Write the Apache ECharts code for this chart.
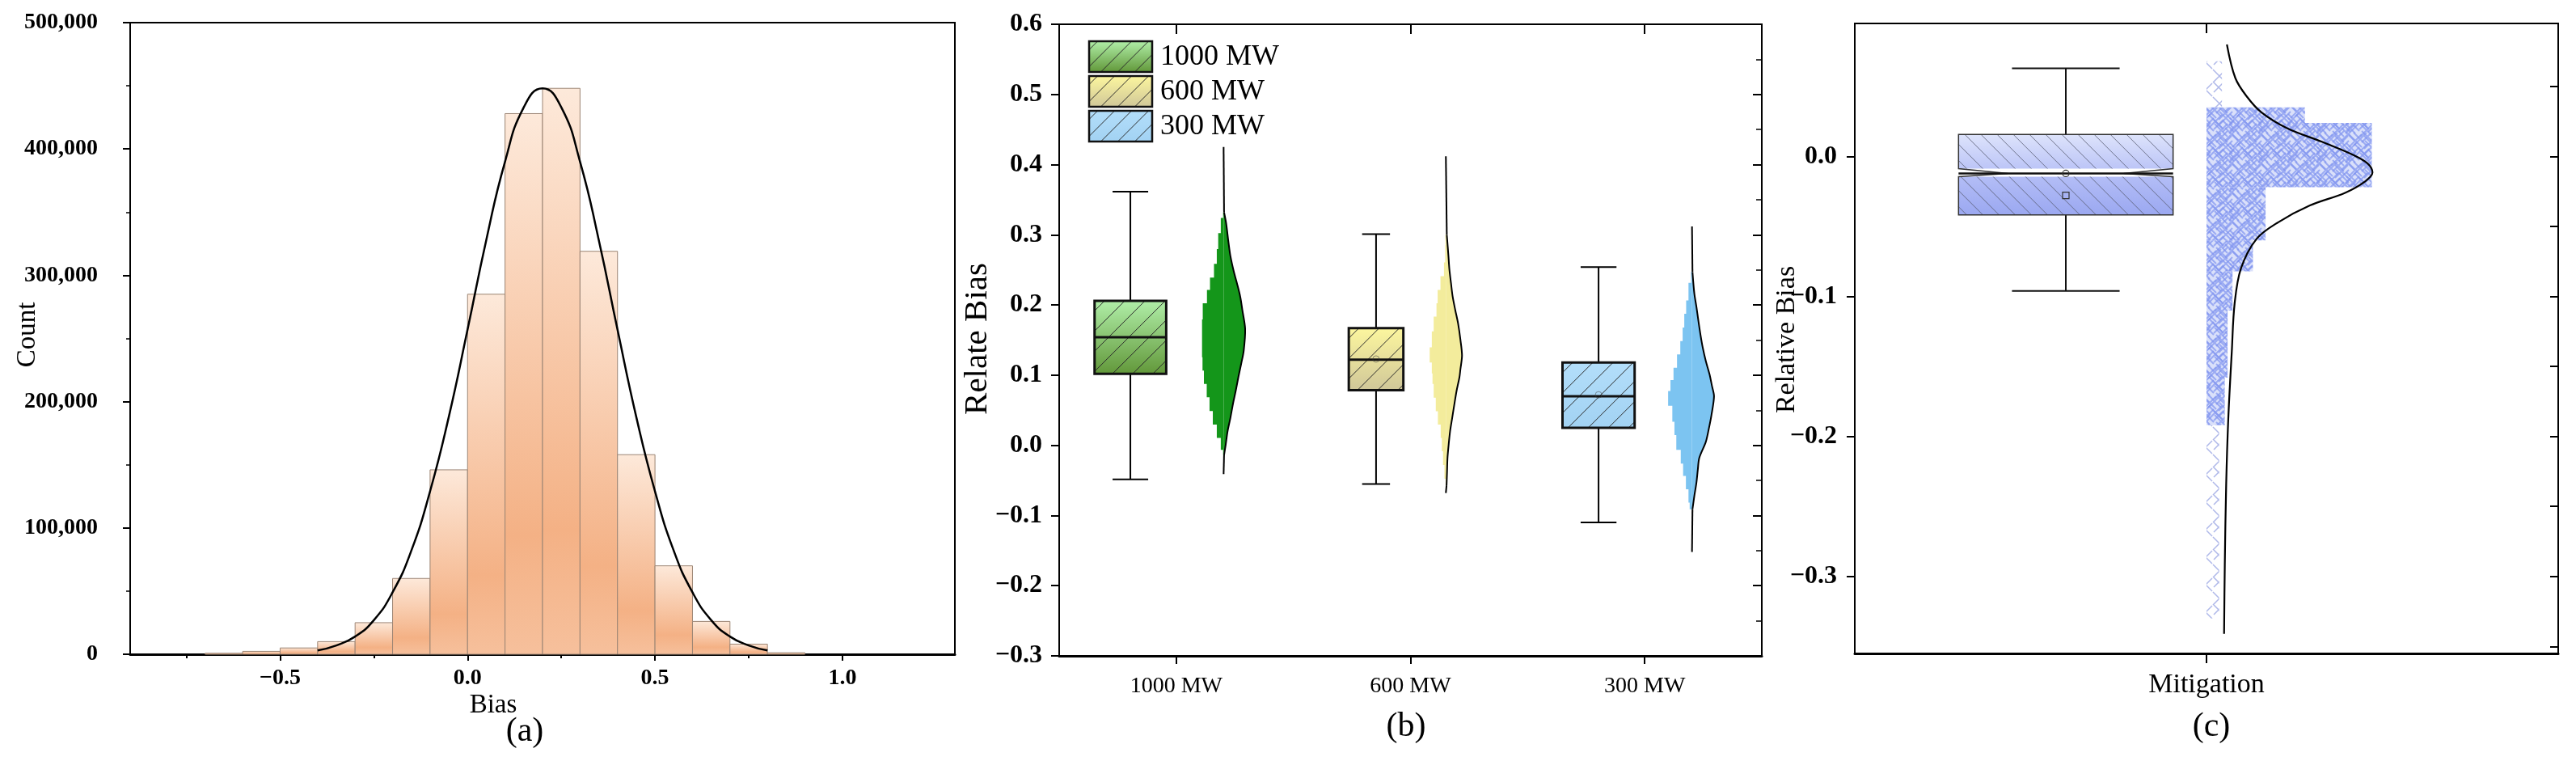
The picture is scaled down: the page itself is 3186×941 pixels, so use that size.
<!DOCTYPE html>
<html>
<head>
<meta charset="utf-8">
<title>Bias distributions</title>
<script src="https://cdn.jsdelivr.net/npm/echarts@6/dist/echarts.min.js"></script>
<style>
html, body { margin: 0; padding: 0; background: #fff; }
#chart { width: 3186px; height: 941px; }
</style>
</head>
<body>
<div id="chart"></div>
<script>
// ---------- (a) histogram of Bias ----------
var binStarts = [-0.7, -0.6, -0.5, -0.4, -0.3, -0.2, -0.1, 0.0, 0.1, 0.2, 0.3, 0.4, 0.5, 0.6, 0.7, 0.8];
var binWidth = 0.1;
var binCounts = [800, 2300, 5000, 10000, 25000, 60000, 146000, 285000, 428000, 448000, 319000, 158000, 70000, 26000, 8000, 1200];
var fitX = [-0.4, -0.35, -0.3, -0.25, -0.2, -0.15, -0.1, -0.05, 0.0, 0.05, 0.1, 0.15, 0.2, 0.25, 0.3, 0.35, 0.4, 0.45, 0.5, 0.55, 0.6, 0.65, 0.7, 0.75, 0.8];
var fitCount = [3000, 7000, 14000, 27000, 49000, 82000, 129000, 188000, 257000, 328000, 390000, 433000, 448000, 433000, 390000, 328000, 257000, 188000, 129000, 82000, 49000, 27000, 14000, 7000, 3000];
var histXTicks = [-0.5, 0.0, 0.5, 1.0];
var histXMinorTicks = [-0.75, -0.25, 0.25, 0.75];

// ---------- (b) box + half violin per unit ----------
var unitNames = ['1000 MW', '600 MW', '300 MW'];
// [min, Q1, median, Q3, max]
var unitBoxStats = [
  [-0.0486, 0.102, 0.154, 0.206, 0.3615],
  [-0.055, 0.0785, 0.122, 0.167, 0.301],
  [-0.110, 0.025, 0.070, 0.118, 0.254]
];
var unitMeans = [0.155, 0.123, 0.072];

var violin1000Y     = [0.332, 0.316, 0.289, 0.270, 0.247, 0.231, 0.212, 0.193, 0.166, 0.135, 0.116, 0.097, 0.078, 0.059, 0.039, 0.020, 0.001, -0.014];
var violin1000Left  = [0.002, 0.012, 0.023, 0.029, 0.041, 0.058, 0.071, 0.089, 0.092, 0.092, 0.090, 0.084, 0.072, 0.060, 0.046, 0.029, 0.012, 0.002];
var violin1000Right = [0.002, 0.011, 0.021, 0.029, 0.044, 0.057, 0.071, 0.080, 0.092, 0.086, 0.075, 0.063, 0.052, 0.040, 0.029, 0.017, 0.009, 0.002];
var violin1000Stem  = [0.425, -0.041];

var violin600Y     = [0.300, 0.270, 0.251, 0.231, 0.212, 0.193, 0.174, 0.151, 0.128, 0.108, 0.097, 0.078, 0.058, 0.039, 0.020, 0.001, -0.018, -0.038, -0.057];
var violin600Left  = [0.002, 0.003, 0.008, 0.023, 0.035, 0.040, 0.052, 0.060, 0.069, 0.060, 0.057, 0.052, 0.043, 0.034, 0.022, 0.017, 0.012, 0.006, 0.001];
var violin600Right = [0.004, 0.011, 0.015, 0.022, 0.029, 0.040, 0.052, 0.062, 0.069, 0.062, 0.058, 0.046, 0.036, 0.027, 0.018, 0.012, 0.007, 0.005, 0.003];
var violin600Stem  = [0.412, -0.068];

var violin300Y     = [0.247, 0.216, 0.197, 0.178, 0.158, 0.139, 0.120, 0.101, 0.085, 0.070, 0.043, 0.024, 0.005, -0.018, -0.034, -0.053, -0.072, -0.091];
var violin300Left  = [0.004, 0.015, 0.025, 0.033, 0.040, 0.050, 0.064, 0.079, 0.092, 0.102, 0.084, 0.075, 0.067, 0.048, 0.038, 0.026, 0.015, 0.010];
var violin300Right = [0.002, 0.010, 0.019, 0.027, 0.036, 0.046, 0.059, 0.075, 0.085, 0.094, 0.083, 0.072, 0.059, 0.031, 0.025, 0.019, 0.010, 0.002];
var violin300Stem  = [0.312, -0.152];

// ---------- (c) mitigation ----------
var mitigationBox = [-0.096, -0.0417, -0.0121, 0.0157, 0.063];
var mitigationMean = -0.0278;
var mitigationNotch = [-0.0144, -0.0087];
var cloudTop    = [0.068, 0.035, 0.024, -0.022, -0.060, -0.082, -0.110, -0.158, -0.192];
var cloudBottom = [0.035, 0.024, -0.022, -0.060, -0.082, -0.110, -0.158, -0.192, -0.330];
var cloudRight  = [0.522, 0.640, 0.735, 0.584, 0.566, 0.537, 0.530, 0.526, 0.518];
var cloudDense  = [0, 1, 1, 1, 1, 1, 1, 1, 0];
var densityX = [0.529, 0.541, 0.557, 0.578, 0.615, 0.664, 0.709, 0.729, 0.736, 0.725, 0.697, 0.647, 0.602, 0.571, 0.549, 0.540, 0.536, 0.531, 0.528, 0.526, 0.525];
var densityY = [0.080, 0.056, 0.043, 0.0315, 0.020, 0.0105, 0.001, -0.005, -0.0115, -0.018, -0.026, -0.035, -0.047, -0.059, -0.080, -0.105, -0.139, -0.187, -0.234, -0.292, -0.341];
var mitigationYTicks = [-0.3, -0.2, -0.1, 0.0];
var mitigationYMinorTicks = [-0.35, -0.3, -0.25, -0.2, -0.15, -0.1, -0.05, 0.0, 0.05];

// ---------- layout / style ----------
var boxCenters = [0.304, 1.353, 2.303];
var boxHalf = [0.153, 0.1165, 0.154];
var capHalf = [0.076, 0.0595, 0.0765];
var spines = [0.702, 1.651, 2.702];
var boxColors = [['#b0eea8', '#62983a'], ['#fcf69e', '#d0c799'], ['#b3defa', '#a2d2f3']];
var violinColors = ['#14961a', '#f3ec9c', '#7cc4f1'];
var SERIF = '"Liberation Serif", "Times New Roman", serif';

var violins = [
  { y: violin1000Y, l: violin1000Left, r: violin1000Right, stem: violin1000Stem },
  { y: violin600Y, l: violin600Left, r: violin600Right, stem: violin600Stem },
  { y: violin300Y, l: violin300Left, r: violin300Right, stem: violin300Stem }
];

function minusFmt(v) {
  var s = Math.abs(v).toFixed(1);
  return (v < -1e-9 ? '\u2212' : '') + s;
}

function grad(c0, c1) {
  return new echarts.graphic.LinearGradient(0, 0, 0, 1, [
    { offset: 0, color: c0 }, { offset: 1, color: c1 }
  ]);
}

// diagonal hatch lines clipped to a pixel rectangle; dir 1 = '/', -1 = '\'
function hatchLines(x0, y0, x1, y1, step, dir, style) {
  var out = [], c, xa, xb;
  if (dir > 0) {
    for (c = x0 + y0 + step / 2; c < x1 + y1; c += step) {
      xa = Math.max(x0, c - y1); xb = Math.min(x1, c - y0);
      if (xb > xa) out.push({ type: 'line', shape: { x1: xa, y1: c - xa, x2: xb, y2: c - xb }, style: style });
    }
  } else {
    for (c = x0 - y1 + step / 2; c < x1 - y0; c += step) {
      xa = Math.max(x0, c + y0); xb = Math.min(x1, c + y1);
      if (xb > xa) out.push({ type: 'line', shape: { x1: xa, y1: xa - c, x2: xb, y2: xb - c }, style: style });
    }
  }
  return out;
}

// tiles of x marks for the scatter cloud
function crossTile(size, marks, color, lw, bg) {
  var cv = document.createElement('canvas');
  cv.width = size; cv.height = size;
  var ctx = cv.getContext('2d');
  if (bg) { ctx.fillStyle = bg; ctx.fillRect(0, 0, size, size); }
  ctx.strokeStyle = color; ctx.lineWidth = lw;
  marks.forEach(function (m) {
    [-size, 0, size].forEach(function (dx) {
      [-size, 0, size].forEach(function (dy) {
        var x = m[0] + dx, y = m[1] + dy, r = m[2];
        ctx.beginPath();
        ctx.moveTo(x - r, y - r); ctx.lineTo(x + r, y + r);
        ctx.moveTo(x + r, y - r); ctx.lineTo(x - r, y + r);
        ctx.stroke();
      });
    });
  });
  return cv;
}
var denseTile = crossTile(36, [[4, 6, 8], [17, 2, 8], [30, 10, 8], [11, 17, 8], [24, 22, 8], [3, 28, 8], [16, 32, 8], [33, 30, 8], [20, 12, 7], [8, 10, 6], [28, 3, 6], [12, 25, 7], [27, 15, 6]],
  'rgba(128,148,240,0.7)', 2, 'rgba(150,166,242,0.35)');
var sparseTile = crossTile(34, [[8, 9, 8], [25, 26, 8], [24, 6, 6]], 'rgba(122,136,218,0.6)', 1.5);

var axisLineStyle = { color: '#000', width: 2 };
var tickStyle = { color: '#000', width: 2 };

// ---------- render functions ----------
function renderHistBar(params, api) {
  var a = api.coord([api.value(0), 0]);
  var b = api.coord([api.value(1), api.value(2)]);
  return {
    type: 'rect',
    shape: { x: a[0], y: b[1], width: b[0] - a[0], height: a[1] - b[1] },
    style: {
      fill: new echarts.graphic.LinearGradient(0, 0, 0, 1, [
        { offset: 0, color: '#fde9da' }, { offset: 0.78, color: '#f4b185' }, { offset: 1, color: '#f6c09c' }
      ]),
      stroke: '#9c8574', lineWidth: 1
    }
  };
}

function renderUnitBox(params, api) {
  var g = api.value(0);
  var s = unitBoxStats[g];
  var cx = boxCenters[g], hw = boxHalf[g], ch = capHalf[g];
  var tl = api.coord([cx - hw, s[3]]), br = api.coord([cx + hw, s[1]]);
  var pMax = api.coord([cx, s[4]]), pMin = api.coord([cx, s[0]]), pMed = api.coord([cx, s[2]]);
  var capL = api.coord([cx - ch, 0])[0], capR = api.coord([cx + ch, 0])[0];
  var pMean = api.coord([cx, unitMeans[g]]);
  var ln = { stroke: '#000', lineWidth: 2 };
  var kids = [
    { type: 'line', shape: { x1: pMax[0], y1: pMax[1], x2: pMax[0], y2: tl[1] }, style: ln },
    { type: 'line', shape: { x1: pMin[0], y1: br[1], x2: pMin[0], y2: pMin[1] }, style: ln },
    { type: 'line', shape: { x1: capL, y1: pMax[1], x2: capR, y2: pMax[1] }, style: ln },
    { type: 'line', shape: { x1: capL, y1: pMin[1], x2: capR, y2: pMin[1] }, style: ln },
    { type: 'rect', shape: { x: tl[0], y: tl[1], width: br[0] - tl[0], height: br[1] - tl[1] },
      style: { fill: grad(boxColors[g][0], boxColors[g][1]) } }
  ];
  kids = kids.concat(hatchLines(tl[0], tl[1], br[0], br[1], 25, 1, { stroke: '#2a2a2a', lineWidth: 1 }));
  kids.push({ type: 'rect', shape: { x: tl[0], y: tl[1], width: br[0] - tl[0], height: br[1] - tl[1] },
    style: { fill: null, stroke: '#111', lineWidth: 3 } });
  kids.push({ type: 'line', shape: { x1: tl[0], y1: pMed[1], x2: br[0], y2: pMed[1] }, style: { stroke: '#111', lineWidth: 3 } });
  if (g > 0) {
    kids.push({ type: 'circle', shape: { cx: pMean[0], cy: pMean[1], r: 4 }, style: { fill: null, stroke: 'rgba(60,60,60,0.5)', lineWidth: 1 } });
  }
  return { type: 'group', children: kids };
}

function renderViolin(params, api) {
  var g = api.value(0);
  var v = violins[g], sp = spines[g], n = v.y.length;
  var left = [api.coord([sp, v.y[0]])], right = [], curve = [];
  for (var i = 0; i < n; i++) {
    var yT = i === 0 ? v.y[0] : (v.y[i - 1] + v.y[i]) / 2;
    var yB = i === n - 1 ? v.y[n - 1] : (v.y[i] + v.y[i + 1]) / 2;
    left.push(api.coord([sp - v.l[i], yT]), api.coord([sp - v.l[i], yB]));
    curve.push(api.coord([sp + v.r[i], v.y[i]]));
  }
  left.push(api.coord([sp, v.y[n - 1]]));
  right.push(api.coord([sp, v.y[0]]));
  right = right.concat(curve);
  for (var k = 0; k <= 8; k++) {
    right.push(api.coord([sp, v.y[n - 1] + (v.y[0] - v.y[n - 1]) * k / 8]));
  }
  var top = api.coord([sp, v.stem[0]]), bot = api.coord([sp, v.stem[1]]);
  var ln = { stroke: '#000', lineWidth: 2 };
  return {
    type: 'group',
    children: [
      { type: 'polygon', shape: { points: left }, style: { fill: violinColors[g] } },
      { type: 'polygon', shape: { points: right, smooth: 0.3 }, style: { fill: violinColors[g] } },
      { type: 'line', shape: { x1: top[0], y1: top[1], x2: curve[0][0], y2: curve[0][1] }, style: ln },
      { type: 'polyline', shape: { points: curve, smooth: 0.3 }, style: { fill: null, stroke: '#000', lineWidth: 2 } },
      { type: 'line', shape: { x1: curve[n - 1][0], y1: curve[n - 1][1], x2: bot[0], y2: bot[1] }, style: ln }
    ]
  };
}

function renderMitigationBox(params, api) {
  var s = mitigationBox, cx = 0.300, hw = 0.1525, ch = 0.0765, nd = 0.07;
  var tl = api.coord([cx - hw, s[3]]), br = api.coord([cx + hw, s[1]]);
  var pMax = api.coord([cx, s[4]]), pMin = api.coord([cx, s[0]]), pMed = api.coord([cx, s[2]]);
  var capL = api.coord([cx - ch, 0])[0], capR = api.coord([cx + ch, 0])[0];
  var nHi = api.coord([0, mitigationNotch[1]])[1], nLo = api.coord([0, mitigationNotch[0]])[1];
  var nL = api.coord([cx - hw + nd, 0])[0], nR = api.coord([cx + hw - nd, 0])[0];
  var pMean = api.coord([cx, mitigationMean]);
  var ln = { stroke: '#111', lineWidth: 2 };
  var outline = [[tl[0], tl[1]], [br[0], tl[1]], [br[0], nHi], [nR, pMed[1]], [br[0], nLo], [br[0], br[1]],
                 [tl[0], br[1]], [tl[0], nLo], [nL, pMed[1]], [tl[0], nHi]];
  var kids = [
    { type: 'line', shape: { x1: pMax[0], y1: pMax[1], x2: pMax[0], y2: tl[1] }, style: ln },
    { type: 'line', shape: { x1: pMin[0], y1: br[1], x2: pMin[0], y2: pMin[1] }, style: ln },
    { type: 'line', shape: { x1: capL, y1: pMax[1], x2: capR, y2: pMax[1] }, style: ln },
    { type: 'line', shape: { x1: capL, y1: pMin[1], x2: capR, y2: pMin[1] }, style: ln },
    { type: 'rect', shape: { x: tl[0], y: tl[1], width: br[0] - tl[0], height: nHi - tl[1] }, style: { fill: grad('#dde3fb', '#bcc5f7') } },
    { type: 'rect', shape: { x: tl[0], y: nLo, width: br[0] - tl[0], height: br[1] - nLo }, style: { fill: grad('#b3bdf6', '#9ba8f1') } }
  ];
  kids = kids.concat(hatchLines(tl[0], tl[1], br[0], nHi, 20, -1, { stroke: '#55596e', lineWidth: 0.8 }));
  kids = kids.concat(hatchLines(tl[0], nLo, br[0], br[1], 20, -1, { stroke: '#55596e', lineWidth: 0.8 }));
  kids.push({ type: 'polygon', shape: { points: outline }, style: { fill: null, stroke: '#333', lineWidth: 1.5 } });
  kids.push({ type: 'line', shape: { x1: tl[0], y1: pMed[1], x2: br[0], y2: pMed[1] }, style: { stroke: '#111', lineWidth: 2.5 } });
  kids.push({ type: 'circle', shape: { cx: pMed[0], cy: pMed[1], r: 4 }, style: { fill: null, stroke: '#333', lineWidth: 1.2 } });
  kids.push({ type: 'rect', shape: { x: pMean[0] - 4, y: pMean[1] - 4, width: 8, height: 8 }, style: { fill: null, stroke: '#333', lineWidth: 1.2 } });
  return { type: 'group', children: kids };
}

function renderCloud(params, api) {
  var i = params.dataIndex;
  var a = api.coord([0.5, cloudTop[i]]);
  var b = api.coord([cloudRight[i], cloudBottom[i]]);
  return {
    type: 'rect',
    shape: { x: a[0], y: a[1], width: b[0] - a[0], height: b[1] - a[1] },
    style: { fill: { image: cloudDense[i] ? denseTile : sparseTile, repeat: 'repeat' } }
  };
}

// ---------- legend and labels drawn as graphics ----------
var graphics = [];
unitNames.forEach(function (name, i) {
  var x0 = 1347, y0 = 51 + i * 43, w = 78, h = 38;
  var kids = [{ type: 'rect', shape: { x: x0, y: y0, width: w, height: h }, style: { fill: grad(boxColors[i][0], boxColors[i][1]) } }];
  kids = kids.concat(hatchLines(x0, y0, x0 + w, y0 + h, 21, 1, { stroke: '#2a2a2a', lineWidth: 1 }));
  kids.push({ type: 'rect', shape: { x: x0, y: y0, width: w, height: h }, style: { fill: null, stroke: '#111', lineWidth: 2.5 } });
  kids.push({ type: 'text', x: x0 + w + 10, y: y0 + h / 2 + 1,
    style: { text: name, font: '36px ' + SERIF, fill: '#000', textAlign: 'left', textVerticalAlign: 'middle' } });
  graphics.push({ type: 'group', children: kids });
});
function label(text, x, y, size, rot) {
  graphics.push({ type: 'text', x: x, y: y, rotation: rot || 0,
    style: { text: text, font: size + 'px ' + SERIF, fill: '#000', textAlign: 'center', textVerticalAlign: 'middle' } });
}
label('Count', 34, 414, 33, Math.PI / 2);
label('Bias', 610, 872, 33);
label('(a)', 649, 905, 42);
label('Relate Bias', 1209, 419, 41, Math.PI / 2);
label('(b)', 1739, 899, 42);
label('Relative Bias', 2210, 420, 34, Math.PI / 2);
label('(c)', 2735, 899, 42);

// ---------- axes ----------
var boldLabel = function (size) {
  return { color: '#000', fontFamily: SERIF, fontWeight: 'bold', fontSize: size };
};

var option = {
  animation: false,
  backgroundColor: '#fff',
  graphic: { elements: graphics },
  grid: [
    { left: 161, top: 28, width: 1020, height: 781, show: true, borderColor: '#000', borderWidth: 2, outerBoundsMode: 'none' },
    { left: 1310, top: 30, width: 869, height: 781, show: true, borderColor: '#000', borderWidth: 2, outerBoundsMode: 'none' },
    { left: 2294, top: 29, width: 870, height: 779, show: true, borderColor: '#000', borderWidth: 2, outerBoundsMode: 'none' }
  ],
  xAxis: [
    { gridIndex: 0, type: 'value', min: -0.9, max: 1.3,
      axisLine: { onZero: false, lineStyle: { color: '#000', width: 3 } },
      axisTick: { customValues: histXTicks, length: 8, lineStyle: tickStyle },
      axisLabel: Object.assign({ customValues: histXTicks, margin: 16, formatter: minusFmt }, boldLabel(28)),
      splitLine: { show: false } },
    { gridIndex: 0, type: 'value', min: -0.9, max: 1.3, position: 'bottom',
      axisLine: { show: false, onZero: false },
      axisTick: { customValues: histXMinorTicks, length: 5, lineStyle: tickStyle },
      axisLabel: { show: false }, splitLine: { show: false } },
    { gridIndex: 1, type: 'value', min: 0, max: 3,
      axisLine: { onZero: false, lineStyle: { color: '#000', width: 3 } },
      axisTick: { customValues: [0.5, 1.5, 2.5], length: 10, lineStyle: tickStyle },
      axisLabel: { customValues: [0.5, 1.5, 2.5], margin: 24, color: '#000', fontFamily: SERIF, fontSize: 28,
        formatter: function (v) { return unitNames[Math.floor(v)]; } },
      splitLine: { show: false } },
    { gridIndex: 1, type: 'value', min: 0, max: 3, position: 'top',
      axisLine: { onZero: false, lineStyle: axisLineStyle },
      axisTick: { customValues: [0.5, 1.5, 2.5], inside: true, length: 12, lineStyle: tickStyle },
      axisLabel: { show: false }, splitLine: { show: false } },
    { gridIndex: 2, type: 'value', min: 0, max: 1,
      axisLine: { onZero: false, lineStyle: { color: '#000', width: 3 } },
      axisTick: { customValues: [0.5], length: 12, lineStyle: tickStyle },
      axisLabel: { customValues: [0.5], margin: 22, color: '#000', fontFamily: SERIF, fontSize: 34,
        formatter: function () { return 'Mitigation'; } },
      splitLine: { show: false } },
    { gridIndex: 2, type: 'value', min: 0, max: 1, position: 'top',
      axisLine: { onZero: false, lineStyle: axisLineStyle },
      axisTick: { customValues: [0.5], inside: true, length: 12, lineStyle: tickStyle },
      axisLabel: { show: false }, splitLine: { show: false } }
  ],
  yAxis: [
    { gridIndex: 0, type: 'value', min: 0, max: 500000, interval: 100000,
      axisLine: { show: true, onZero: false, lineStyle: axisLineStyle },
      axisTick: { show: true, length: 9, lineStyle: tickStyle },
      minorTick: { show: true, splitNumber: 2, length: 5, lineStyle: { color: '#000', width: 1.5 } },
      axisLabel: Object.assign({ margin: 40, formatter: function (v) { return v.toLocaleString('en-US'); } }, boldLabel(28)),
      splitLine: { show: false } },
    { gridIndex: 1, type: 'value', min: -0.3, max: 0.6, interval: 0.1,
      axisLine: { show: true, onZero: false, lineStyle: axisLineStyle },
      axisTick: { show: true, length: 10, lineStyle: tickStyle },
      axisLabel: Object.assign({ margin: 21, formatter: minusFmt }, boldLabel(32)),
      splitLine: { show: false } },
    { gridIndex: 1, type: 'value', min: -0.3, max: 0.6, interval: 0.1, position: 'right',
      axisLine: { show: true, onZero: false, lineStyle: axisLineStyle },
      axisTick: { show: true, inside: true, length: 11, lineStyle: tickStyle },
      minorTick: { show: true, splitNumber: 2, length: 7, lineStyle: { color: '#000', width: 1.5 } },
      axisLabel: { show: false }, splitLine: { show: false } },
    { gridIndex: 2, type: 'value', min: -0.355, max: 0.095,
      axisLine: { show: true, onZero: false, lineStyle: axisLineStyle },
      axisTick: { show: true, customValues: mitigationYTicks, length: 10, lineStyle: tickStyle },
      axisLabel: Object.assign({ customValues: mitigationYTicks, margin: 22, formatter: minusFmt }, boldLabel(32)),
      splitLine: { show: false } },
    { gridIndex: 2, type: 'value', min: -0.355, max: 0.095, position: 'right',
      axisLine: { show: true, onZero: false, lineStyle: axisLineStyle },
      axisTick: { show: true, inside: true, customValues: mitigationYMinorTicks, length: 10, lineStyle: tickStyle },
      axisLabel: { show: false }, splitLine: { show: false } }
  ],
  series: [
    { type: 'custom', xAxisIndex: 0, yAxisIndex: 0, renderItem: renderHistBar,
      encode: { x: [0, 1], y: 2 },
      data: binStarts.map(function (s, i) { return [s, s + binWidth, binCounts[i]]; }) },
    { type: 'line', xAxisIndex: 0, yAxisIndex: 0, smooth: true, symbol: 'none', z: 5,
      lineStyle: { color: '#000', width: 2.5 },
      data: fitX.map(function (x, i) { return [x, fitCount[i]]; }) },
    { type: 'custom', xAxisIndex: 2, yAxisIndex: 1, renderItem: renderViolin, z: 3,
      encode: { x: 0, y: 1 },
      data: unitNames.map(function (n, i) { return [i, unitBoxStats[i][2]]; }) },
    { type: 'custom', xAxisIndex: 2, yAxisIndex: 1, renderItem: renderUnitBox, z: 4,
      encode: { x: 0, y: 1 },
      data: unitNames.map(function (n, i) { return [i, unitBoxStats[i][2]]; }) },
    { type: 'custom', xAxisIndex: 4, yAxisIndex: 3, renderItem: renderCloud, z: 2,
      encode: { x: 0, y: 1 },
      data: cloudTop.map(function (t, i) { return [cloudRight[i], t]; }) },
    { type: 'custom', xAxisIndex: 4, yAxisIndex: 3, renderItem: renderMitigationBox, z: 4,
      encode: { x: 0, y: 1 },
      data: [[0.3, mitigationBox[2]]] },
    { type: 'line', xAxisIndex: 4, yAxisIndex: 3, smooth: 0.35, symbol: 'none', z: 5,
      lineStyle: { color: '#000', width: 2.2 },
      data: densityX.map(function (x, i) { return [x, densityY[i]]; }) }
  ]
};

var myChart = echarts.init(document.getElementById('chart'));
myChart.setOption(option);
</script>
</body>
</html>
